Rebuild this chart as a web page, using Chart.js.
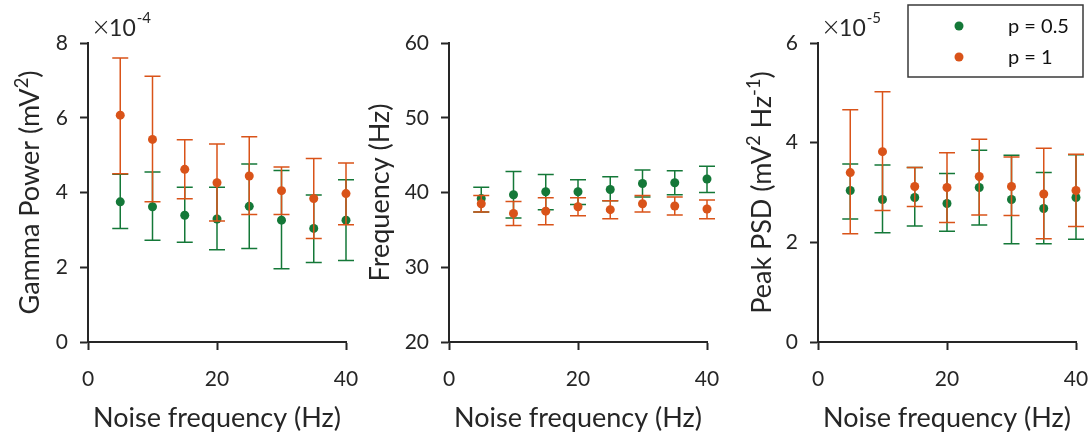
<!DOCTYPE html>
<html>
<head>
<meta charset="utf-8">
<script src="https://cdn.jsdelivr.net/npm/chart.js@4.4.1/dist/chart.umd.min.js"></script>
<style>
  html, body { margin: 0; padding: 0; background: #ffffff; }
  #wrap { position: relative; width: 1090px; height: 436px; overflow: hidden; }
  .panel { position: absolute; top: 0; height: 436px; }
  canvas { display: block; }
</style>
</head>
<body>
<div id="wrap">
  <div class="panel" style="left:0px;width:360px"><canvas id="gammaChart" width="360" height="436"></canvas></div>
  <div class="panel" style="left:360px;width:360px"><canvas id="freqChart" width="360" height="436"></canvas></div>
  <div class="panel" style="left:720px;width:370px"><canvas id="psdChart" width="370" height="436"></canvas></div>
</div>
<script>
// Noise frequencies tested (Hz)
const noiseFreq = [5, 10, 15, 20, 25, 30, 35, 40];
const xTicks = [0, 20, 40];

// Gamma power, in units of 1e-4 mV^2 (mean, lower and upper error bound)
const gammaP05   = [3.75, 3.62, 3.39, 3.29, 3.63, 3.26, 3.04, 3.26];
const gammaP05Lo = [3.04, 2.72, 2.67, 2.47, 2.50, 1.96, 2.13, 2.18];
const gammaP05Hi = [4.49, 4.55, 4.14, 4.14, 4.76, 4.59, 3.93, 4.34];
const gammaP1    = [6.07, 5.42, 4.62, 4.26, 4.44, 4.05, 3.84, 3.97];
const gammaP1Lo  = [4.50, 3.75, 3.83, 3.24, 3.41, 3.41, 2.77, 3.14];
const gammaP1Hi  = [7.60, 7.11, 5.41, 5.30, 5.49, 4.68, 4.91, 4.79];
const gammaTicks = [0, 2, 4, 6, 8];

// Peak gamma frequency (Hz)
const freqP05   = [39.2, 39.7, 40.1, 40.1, 40.4, 41.2, 41.3, 41.8];
const freqP05Lo = [37.4, 36.6, 37.7, 38.4, 38.9, 39.4, 39.7, 40.0];
const freqP05Hi = [40.7, 42.8, 42.4, 41.7, 42.1, 43.0, 42.9, 43.5];
const freqP1    = [38.5, 37.2, 37.5, 38.1, 37.7, 38.5, 38.2, 37.8];
const freqP1Lo  = [37.4, 35.6, 35.7, 36.9, 36.5, 37.4, 37.0, 36.5];
const freqP1Hi  = [39.6, 38.8, 39.3, 39.3, 38.9, 39.6, 39.4, 39.0];
const freqTicks = [20, 30, 40, 50, 60];

// Peak PSD, in units of 1e-5 mV^2 Hz^-1
const psdP05   = [3.04, 2.86, 2.90, 2.78, 3.10, 2.86, 2.68, 2.90];
const psdP05Lo = [2.47, 2.19, 2.33, 2.22, 2.35, 1.97, 1.97, 2.06];
const psdP05Hi = [3.57, 3.55, 3.50, 3.38, 3.85, 3.75, 3.40, 3.76];
const psdP1    = [3.40, 3.82, 3.12, 3.10, 3.32, 3.12, 2.97, 3.04];
const psdP1Lo  = [2.17, 2.64, 2.72, 2.40, 2.55, 2.54, 2.07, 2.32];
const psdP1Hi  = [4.66, 5.02, 3.50, 3.80, 4.07, 3.71, 3.89, 3.77];
const psdTicks = [0, 2, 4, 6];

const seriesLabels = ['p = 0.5', 'p = 1'];
const GREEN = '#147838';
const ORANGE = '#d95319';
const AXIS = '#262626';
const FONT = 'Lato, "Open Sans", sans-serif';
const TITLE_SIZE = 27;

// Vertical error bars with caps, drawn just before each dataset's points
const errorBars = {
  id: 'errorBars',
  beforeDatasetDraw(chart, args) {
    const ds = chart.data.datasets[args.index];
    if (!ds.errLow) return;
    const xs = args.meta.xScale, ys = args.meta.yScale, ctx = chart.ctx;
    const cap = 8;
    ctx.save();
    ctx.strokeStyle = ds.borderColor;
    ctx.lineWidth = 1.5;
    ds.data.forEach((p, i) => {
      const x = xs.getPixelForValue(p.x);
      const yLo = ys.getPixelForValue(ds.errLow[i]);
      const yHi = ys.getPixelForValue(ds.errHigh[i]);
      ctx.beginPath();
      ctx.moveTo(x, yLo); ctx.lineTo(x, yHi);
      ctx.moveTo(x - cap, yLo); ctx.lineTo(x + cap, yLo);
      ctx.moveTo(x - cap, yHi); ctx.lineTo(x + cap, yHi);
      ctx.stroke();
    });
    ctx.restore();
  }
};

// Text runs where some pieces are superscripts
function richWidth(ctx, parts, size) {
  let w = 0;
  parts.forEach(p => {
    ctx.font = (p.sup ? size * 0.68 : size) + 'px ' + FONT;
    w += ctx.measureText(p.t).width;
  });
  return w;
}
function drawRich(ctx, parts, x, y, size) {
  parts.forEach(p => {
    const s = p.sup ? size * 0.68 : size;
    ctx.font = s + 'px ' + FONT;
    ctx.fillText(p.t, x, p.sup ? y - size * 0.42 : y);
    x += ctx.measureText(p.t).width;
  });
}

// Axis titles and the power-of-ten multiplier above the y axis
const axisText = {
  id: 'axisText',
  afterDraw(chart, args, opts) {
    const ctx = chart.ctx, area = chart.chartArea;
    ctx.save();
    ctx.fillStyle = AXIS;
    ctx.textBaseline = 'alphabetic';
    ctx.textAlign = 'left';
    // x title
    const xParts = [{ t: 'Noise frequency (Hz)' }];
    const xw = richWidth(ctx, xParts, TITLE_SIZE);
    drawRich(ctx, xParts, (area.left + area.right) / 2 - xw / 2, 427, TITLE_SIZE);
    // y title (rotated)
    const yw = richWidth(ctx, opts.yTitle, TITLE_SIZE);
    ctx.save();
    ctx.translate(opts.yTitleX, (area.top + area.bottom) / 2);
    ctx.rotate(-Math.PI / 2);
    drawRich(ctx, opts.yTitle, -yw / 2, 0, TITLE_SIZE);
    ctx.restore();
    // multiplier
    if (opts.exponent) {
      let x = area.left + 3;
      ctx.font = '300 24px "DejaVu Sans", sans-serif';
      ctx.fillText('\u00d7', x, 35);
      x += ctx.measureText('\u00d7').width - 2;
      ctx.font = '23px ' + FONT;
      ctx.fillText('10', x, 36);
      x += ctx.measureText('10').width + 1;
      ctx.font = '15px ' + FONT;
      ctx.fillText(opts.exponent, x, 23);
    }
    ctx.restore();
  }
};

// Boxed legend in the top-right corner
const boxLegend = {
  id: 'boxLegend',
  afterDraw(chart, args, opts) {
    if (!opts.show) return;
    const ctx = chart.ctx;
    const { x, y, w, h } = opts.box;
    ctx.save();
    ctx.fillStyle = '#ffffff';
    ctx.fillRect(x, y, w, h);
    ctx.strokeStyle = '#3a3a3a';
    ctx.lineWidth = 1.5;
    ctx.strokeRect(x, y, w, h);
    ctx.textBaseline = 'middle';
    ctx.textAlign = 'left';
    ctx.font = '20px ' + FONT;
    chart.data.datasets.forEach((ds, i) => {
      const cy = y + 21 + i * 31;
      ctx.fillStyle = ds.backgroundColor;
      ctx.beginPath();
      ctx.arc(x + 51, cy, 4.5, 0, Math.PI * 2);
      ctx.fill();
      ctx.fillStyle = '#111111';
      ctx.fillText(ds.label, x + 100, cy + 1);
    });
    ctx.restore();
  }
};

function pairs(xs, ys) { return xs.map((x, i) => ({ x: x, y: ys[i] })); }

function makeChart(id, cfg) {
  const datasets = [
    { label: seriesLabels[0], data: pairs(noiseFreq, cfg.p05), errLow: cfg.p05Lo, errHigh: cfg.p05Hi,
      backgroundColor: GREEN, borderColor: GREEN, order: 1 },
    { label: seriesLabels[1], data: pairs(noiseFreq, cfg.p1), errLow: cfg.p1Lo, errHigh: cfg.p1Hi,
      backgroundColor: ORANGE, borderColor: ORANGE, order: 0 }
  ].map(d => Object.assign(d, { pointRadius: 4.5, pointBorderWidth: 0, showLine: false, clip: false }));

  const canvas = document.getElementById(id);
  const axisCommon = {
    border: { display: true, color: AXIS, width: 2 },
    grid: { drawOnChartArea: false, drawTicks: true, tickLength: 8, tickWidth: 2, color: AXIS }
  };
  return new Chart(canvas, {
    type: 'scatter',
    data: { datasets },
    plugins: [errorBars, axisText, boxLegend],
    options: {
      responsive: false,
      animation: false,
      devicePixelRatio: 1,
      events: [],
      layout: { padding: { left: 0, top: 43, right: canvas.width - cfg.right, bottom: 0 } },
      plugins: {
        legend: { display: false },
        tooltip: { enabled: false },
        axisText: { yTitle: cfg.yTitle, yTitleX: cfg.yTitleX, exponent: cfg.exponent },
        boxLegend: { show: !!cfg.legend, box: cfg.legend }
      },
      scales: {
        x: Object.assign({}, axisCommon, {
          type: 'linear', min: 0, max: 40,
          afterBuildTicks: s => { s.ticks = xTicks.map(v => ({ value: v })); },
          afterFit: s => { s.height = 436 - 342; s.paddingLeft = 0; s.paddingRight = 0; },
          ticks: { padding: 17, color: AXIS, font: { family: FONT, size: 21 }, maxRotation: 0 }
        }),
        y: Object.assign({}, axisCommon, {
          type: 'linear', min: cfg.yTicks[0], max: cfg.yTicks[cfg.yTicks.length - 1],
          afterBuildTicks: s => { s.ticks = cfg.yTicks.map(v => ({ value: v })); },
          afterFit: s => { s.width = cfg.left; s.paddingTop = 0; s.paddingBottom = 0; },
          ticks: { padding: 12, color: AXIS, font: { family: FONT, size: 21 } }
        })
      }
    }
  });
}

makeChart('gammaChart', {
  p05: gammaP05, p05Lo: gammaP05Lo, p05Hi: gammaP05Hi,
  p1: gammaP1, p1Lo: gammaP1Lo, p1Hi: gammaP1Hi,
  yTicks: gammaTicks, left: 88, right: 346, yTitleX: 39, exponent: '-4',
  yTitle: [{ t: 'Gamma Power (mV' }, { t: '2', sup: true }, { t: ')' }]
});

makeChart('freqChart', {
  p05: freqP05, p05Lo: freqP05Lo, p05Hi: freqP05Hi,
  p1: freqP1, p1Lo: freqP1Lo, p1Hi: freqP1Hi,
  yTicks: freqTicks, left: 89, right: 347, yTitleX: 29,
  yTitle: [{ t: 'Frequency (Hz)' }]
});

makeChart('psdChart', {
  p05: psdP05, p05Lo: psdP05Lo, p05Hi: psdP05Hi,
  p1: psdP1, p1Lo: psdP1Lo, p1Hi: psdP1Hi,
  yTicks: psdTicks, left: 98, right: 356, yTitleX: 51, exponent: '-5',
  yTitle: [{ t: 'Peak PSD (mV' }, { t: '2', sup: true }, { t: ' Hz' }, { t: '-1', sup: true }, { t: ')' }],
  legend: { x: 188, y: 5, w: 175, h: 72 }
});
</script>
</body>
</html>
